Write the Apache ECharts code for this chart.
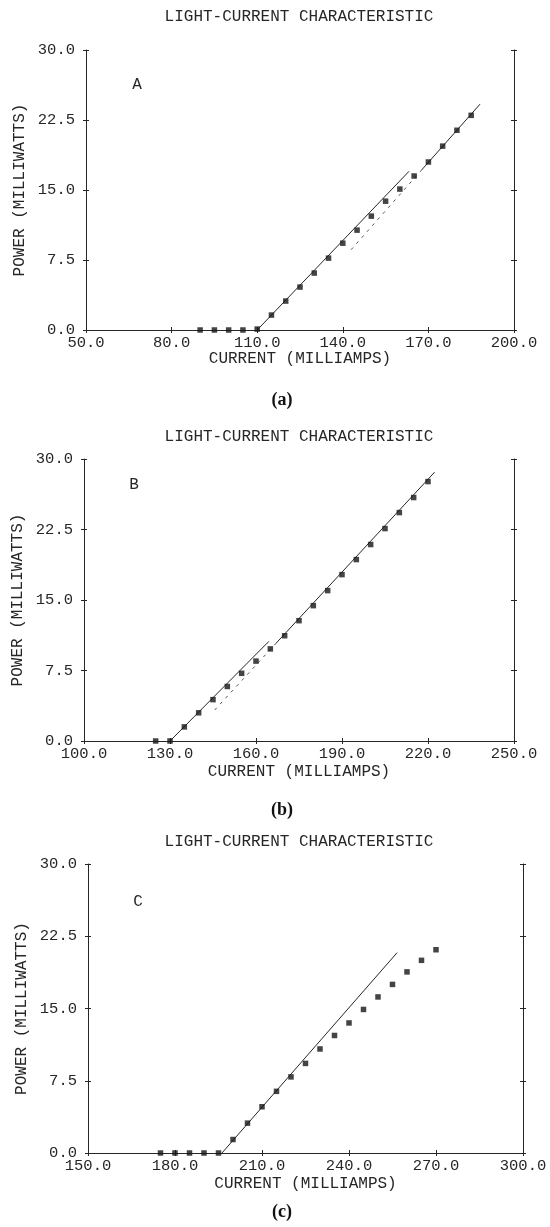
<!DOCTYPE html>
<html>
<head>
<meta charset="utf-8">
<title>Light-current characteristic</title>
<script src="https://cdn.jsdelivr.net/npm/echarts@6/dist/echarts.min.js"></script>
<style>
  html, body { margin: 0; padding: 0; background: #fff; }
  #chart { width: 550px; height: 1227px; }
</style>
</head>
<body>
<div id="chart"></div>
<script>
// current (mA) and power (mW)
let ampsA = [90, 95, 100, 105, 110, 115, 120, 125, 130, 135, 140, 145, 150, 155, 160, 165, 170, 175, 180, 185];
let powerA = [0, 0, 0, 0, 0.1, 1.6, 3.1, 4.6, 6.1, 7.7, 9.3, 10.7, 12.2, 13.8, 15.1, 16.5, 18.0, 19.7, 21.4, 23.0];
let fitA1 = [[110, 0], [163.2, 17.0]];
let fitA2Dash = [[142.9, 8.6], [167.5, 17.1]];
let fitA2 = [[167.5, 17.1], [188.1, 24.2]];

let ampsB = [125, 130, 135, 140, 145, 150, 155, 160, 165, 170, 175, 180, 185, 190, 195, 200, 205, 210, 215, 220];
let powerB = [0, 0, 1.5, 3.0, 4.4, 5.8, 7.2, 8.5, 9.8, 11.2, 12.8, 14.4, 16.0, 17.7, 19.3, 20.9, 22.6, 24.3, 25.9, 27.6];
let fitB1 = [[130, 0], [164.5, 10.6]];
let fitB2Dash = [[145.6, 3.3], [167, 10.4]];
let fitB2 = [[167, 10.4], [222.3, 28.6]];

let ampsC = [175, 180, 185, 190, 195, 200, 205, 210, 215, 220, 225, 230, 235, 240, 245, 250, 255, 260, 265, 270];
let powerC = [0, 0, 0, 0, 0, 1.4, 3.1, 4.8, 6.4, 7.9, 9.3, 10.8, 12.2, 13.5, 14.9, 16.2, 17.5, 18.8, 20.0, 21.1];
let fitC = [[196.2, 0], [256.6, 20.8]];

let xTicksA = [50, 80, 110, 140, 170, 200];
let xTicksB = [100, 130, 160, 190, 220, 250];
let xTicksC = [150, 180, 210, 240, 270, 300];
let yTicks = [0, 7.5, 15, 22.5, 30];

let ink = '#262626';
let mono = '"Liberation Mono", "DejaVu Sans Mono", monospace';

let panels = [
  {grid: {left: 86, top: 50, width: 428, height: 280}, xTicks: xTicksA, amps: ampsA, power: powerA,
    solid: [fitA1, fitA2], dashed: [fitA2Dash], nameGap: 21,
    title: 17, letter: 'A', letterPos: [137, 85], caption: '(a)', captionY: 400},
  {grid: {left: 84, top: 459, width: 430, height: 282}, xTicks: xTicksB, amps: ampsB, power: powerB,
    solid: [fitB1, fitB2], dashed: [fitB2Dash], nameGap: 23,
    title: 437, letter: 'B', letterPos: [134, 485], caption: '(b)', captionY: 810},
  {grid: {left: 88, top: 864, width: 435, height: 289}, xTicks: xTicksC, amps: ampsC, power: powerC,
    solid: [fitC], dashed: [], nameGap: 23,
    title: 842, letter: 'C', letterPos: [138, 902], caption: '(c)', captionY: 1212}
];

let lineStyle = {color: ink, width: 1};
let tickText = {fontFamily: mono, fontSize: 15.5, color: ink};
let nameText = {fontFamily: mono, fontSize: 16, color: ink};

// each side gets two axes so the ticks cross the frame like the plotter ones
function xAxes(p, i) {
  let min = p.xTicks[0], max = p.xTicks[p.xTicks.length - 1];
  let base = {gridIndex: i, type: 'value', min: min, max: max, splitLine: {show: false}};
  let tick = (inside) => ({show: true, inside: inside, length: 3, customValues: p.xTicks, lineStyle: lineStyle});
  return [
    Object.assign({}, base, {
      position: 'bottom',
      axisLine: {show: true, lineStyle: lineStyle},
      axisTick: tick(false),
      axisLabel: Object.assign({customValues: p.xTicks, margin: 5, formatter: v => v.toFixed(1)}, tickText),
      name: 'CURRENT (MILLIAMPS)', nameLocation: 'middle', nameGap: p.nameGap, nameMoveOverlap: false,
      nameTextStyle: nameText
    }),
    Object.assign({}, base, {position: 'bottom', axisLine: {show: false}, axisTick: tick(true), axisLabel: {show: false}}),
    Object.assign({}, base, {position: 'top', axisLine: {show: true, lineStyle: lineStyle}, axisTick: tick(false), axisLabel: {show: false}}),
    Object.assign({}, base, {position: 'top', axisLine: {show: false}, axisTick: tick(true), axisLabel: {show: false}})
  ];
}

function yAxes(p, i) {
  let base = {gridIndex: i, type: 'value', min: yTicks[0], max: yTicks[yTicks.length - 1], splitLine: {show: false}};
  let tick = (inside) => ({show: true, inside: inside, length: 3, customValues: yTicks, lineStyle: lineStyle});
  return [
    Object.assign({}, base, {
      position: 'left',
      axisLine: {show: true, lineStyle: lineStyle},
      axisTick: tick(false),
      axisLabel: Object.assign({customValues: yTicks, margin: 11, formatter: v => v.toFixed(1)}, tickText),
      name: 'POWER (MILLIWATTS)', nameLocation: 'middle', nameRotate: 90, nameGap: 58, nameMoveOverlap: false,
      nameTextStyle: nameText
    }),
    Object.assign({}, base, {position: 'left', axisLine: {show: false}, axisTick: tick(true), axisLabel: {show: false}}),
    Object.assign({}, base, {position: 'right', axisLine: {show: true, lineStyle: lineStyle}, axisTick: tick(false), axisLabel: {show: false}}),
    Object.assign({}, base, {position: 'right', axisLine: {show: false}, axisTick: tick(true), axisLabel: {show: false}})
  ];
}

let grid = [], xAxis = [], yAxis = [], series = [], graphic = [];

panels.forEach((p, i) => {
  grid.push(Object.assign({outerBoundsMode: 'none', containLabel: false}, p.grid));
  xAxis.push(...xAxes(p, i));
  yAxis.push(...yAxes(p, i));
  let axisIdx = {xAxisIndex: i * 4, yAxisIndex: i * 4};

  series.push(Object.assign({
    type: 'scatter',
    data: p.amps.map((a, k) => [a, p.power[k]]),
    symbol: 'rect',
    symbolSize: 5.5,
    itemStyle: {color: '#151515'},
    z: 3
  }, axisIdx));

  p.solid.forEach(seg => series.push(Object.assign({
    type: 'line', data: seg, symbol: 'none', lineStyle: {color: ink, width: 1}
  }, axisIdx)));
  p.dashed.forEach(seg => series.push(Object.assign({
    type: 'line', data: seg, symbol: 'none', lineStyle: {color: '#555', width: 1, type: [3, 5]}
  }, axisIdx)));

  graphic.push({
    type: 'text', x: 299, y: p.title,
    style: {text: 'LIGHT-CURRENT CHARACTERISTIC', align: 'center', verticalAlign: 'middle',
      font: '16px ' + mono, fill: ink}
  });
  graphic.push({
    type: 'text', x: p.letterPos[0], y: p.letterPos[1],
    style: {text: p.letter, align: 'center', verticalAlign: 'middle', font: '16px ' + mono, fill: ink}
  });
  graphic.push({
    type: 'text', x: 282, y: p.captionY,
    style: {text: p.caption, align: 'center', verticalAlign: 'middle',
      font: 'bold 18px "Liberation Serif", "DejaVu Serif", serif', fill: '#111'}
  });
});

let option = {
  backgroundColor: '#fff',
  animation: false,
  grid: grid,
  xAxis: xAxis,
  yAxis: yAxis,
  series: series,
  graphic: graphic
};

let myChart = echarts.init(document.getElementById('chart'));
myChart.setOption(option);
</script>
</body>
</html>
